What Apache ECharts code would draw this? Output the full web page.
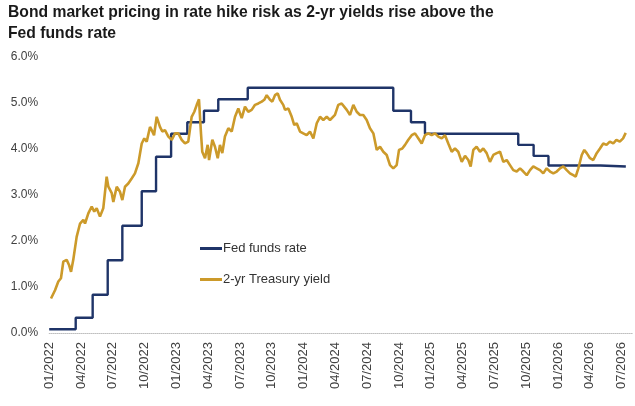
<!DOCTYPE html>
<html>
<head>
<meta charset="utf-8">
<script src="https://cdn.jsdelivr.net/npm/echarts@6/dist/echarts.min.js"></script>
<style>
  html, body { margin: 0; padding: 0; background: #fff; }
  #chart { width: 635px; height: 406px; }
</style>
</head>
<body>
<div id="chart"></div>
<script>
// x values are months since 01/2022 (0 = Jan 2022, 12 = Jan 2023 ...)
const xTicks = ['01/2022', '04/2022', '07/2022', '10/2022', '01/2023', '04/2023', '07/2023',
  '10/2023', '01/2024', '04/2024', '07/2024', '10/2024', '01/2025', '04/2025', '07/2025',
  '10/2025', '01/2026', '04/2026', '07/2026'];

// Fed funds rate: month where each level starts, and the level (%)
const fedMonth = [0, 2.5, 4.1, 5.52, 6.9, 8.73, 10.08, 11.5, 13.03, 14.6, 15.95, 18.73,
  32.46, 34.13, 35.45, 44.25, 45.7, 47.1, 52.0, 54.4];
const fedRate = [0.08, 0.33, 0.83, 1.58, 2.33, 3.08, 3.83, 4.33, 4.58, 4.83, 5.08, 5.33,
  4.83, 4.58, 4.33, 4.09, 3.85, 3.64, 3.62, 3.62];

// 2-yr Treasury yield (%)
const yieldMonth = [0.17, 0.55, 0.86, 1.11, 1.33, 1.65, 1.87, 2.06, 2.27, 2.59, 2.91, 3.22, 3.38,
  3.69, 4.01, 4.25, 4.48, 4.79, 5.10, 5.42, 5.58, 5.90, 6.05, 6.37, 6.68, 6.90, 7.15, 7.46, 7.78,
  8.09, 8.41, 8.73, 8.97, 9.20, 9.51, 9.67, 9.89, 10.14, 10.45, 10.67, 10.92, 11.24, 11.56, 11.87,
  12.18, 12.50, 12.81, 13.12, 13.44, 13.69, 13.92, 14.13, 14.32, 14.44, 14.70, 14.95, 15.08,
  15.39, 15.64, 15.90, 16.11, 16.33, 16.58, 16.90, 17.22, 17.53, 17.84, 18.16, 18.47, 18.78,
  19.10, 19.42, 19.73, 20.05, 20.29, 20.52, 20.83, 21.05, 21.30, 21.56, 21.77, 22.08, 22.25,
  22.56, 22.88, 23.12, 23.35, 23.66, 23.97, 24.29, 24.60, 24.92, 25.24, 25.55, 25.86, 26.18,
  26.49, 26.65, 26.96, 27.27, 27.59, 27.75, 28.07, 28.38, 28.69, 29.01, 29.32, 29.63, 29.95,
  30.26, 30.58, 30.90, 31.21, 31.52, 31.84, 32.15, 32.46, 32.78, 33.00, 33.31, 33.57, 33.88,
  34.20, 34.51, 34.83, 35.14, 35.45, 35.77, 36.08, 36.40, 36.71, 37.03, 37.34, 37.65, 37.97,
  38.28, 38.59, 38.92, 39.23, 39.54, 39.76, 40.01, 40.32, 40.64, 40.95, 41.27, 41.58, 41.90,
  42.22, 42.53, 42.84, 43.16, 43.47, 43.78, 44.10, 44.42, 44.73, 45.05, 45.36, 45.67, 45.99,
  46.30, 46.61, 46.93, 47.25, 47.56, 47.88, 48.19, 48.50, 48.82, 49.13, 49.44, 49.67, 49.92,
  50.24, 50.48, 50.71, 51.02, 51.33, 51.65, 51.96, 52.27, 52.58, 52.89, 53.21, 53.51, 53.83,
  54.14, 54.39];
const yieldPct = [0.75, 0.93, 1.12, 1.19, 1.55, 1.59, 1.48, 1.33, 1.59, 2.09, 2.38, 2.46, 2.38,
  2.60, 2.75, 2.64, 2.71, 2.53, 2.71, 3.40, 3.18, 3.04, 2.85, 3.18, 3.07, 2.89, 3.18, 3.25, 3.36,
  3.47, 3.69, 4.12, 4.23, 4.16, 4.48, 4.41, 4.30, 4.70, 4.48, 4.38, 4.41, 4.27, 4.20, 4.34,
  4.34, 4.20, 4.12, 4.16, 4.70, 4.81, 4.96, 5.08, 4.34, 3.94, 3.80, 4.09, 3.76,
  4.20, 4.05, 3.80, 4.09, 3.91, 4.27, 4.45, 4.38, 4.70, 4.88, 4.67, 4.92, 4.81,
  4.85, 4.96, 4.99, 5.03, 5.07, 5.17, 5.07, 5.03, 5.17, 5.21, 5.07, 4.96, 4.85,
  4.88, 4.70, 4.52, 4.56, 4.38, 4.34, 4.30, 4.38, 4.23, 4.56, 4.70, 4.63, 4.70,
  4.63, 4.59, 4.74, 4.96, 4.99, 5.03, 4.85, 4.74, 4.96, 4.81, 4.74, 4.74, 4.63,
  4.45, 4.34, 3.98, 4.05, 3.94, 3.87, 3.65, 3.58, 3.65, 3.98, 4.01, 4.09, 4.20,
  4.30, 4.34, 4.23, 4.12, 4.30, 4.34, 4.30, 4.34, 4.27, 4.23, 4.30, 4.12, 3.94,
  4.01, 3.94, 3.72, 3.85, 3.76, 3.62, 3.98, 4.05, 3.94, 4.01, 3.91, 3.72, 3.87,
  3.91, 3.94, 3.72, 3.76, 3.65, 3.54, 3.51, 3.58, 3.51, 3.43, 3.54, 3.62, 3.58,
  3.54, 3.47, 3.58, 3.51, 3.47, 3.51, 3.58, 3.62, 3.54, 3.47, 3.43, 3.40, 3.58,
  3.87, 3.98, 3.91, 3.80, 3.76, 3.91, 4.01, 4.12, 4.09, 4.16, 4.12, 4.20, 4.16,
  4.23, 4.35];

const yTicks = [0, 1, 2, 3, 4, 5, 6];

const chart = echarts.init(document.getElementById('chart'), null, { renderer: 'canvas' });

const fedData = fedMonth.map((m, i) => [m, fedRate[i]]);
const yieldData = yieldMonth.map((m, i) => [m, yieldPct[i]]);

chart.setOption({
  animation: false,
  backgroundColor: '#ffffff',
  textStyle: { fontFamily: 'Liberation Sans, Arial, sans-serif' },
  title: {
    text: 'Bond market pricing in rate hike risk as 2-yr yields rise above the\nFed funds rate',
    left: 8,
    top: 2,
    padding: 0,
    textStyle: {
      fontFamily: 'Liberation Sans Narrow, Liberation Sans, sans-serif',
      fontSize: 15.7,
      fontWeight: 'bold',
      lineHeight: 21,
      color: '#1a1a1a'
    }
  },
  grid: {
    left: 49.2,
    right: 2.8,
    top: 57,
    bottom: 73,
    outerBoundsMode: 'none'
  },
  legend: [
    {
      data: ['Fed funds rate'],
      left: 200,
      top: 242,
      padding: 0,
      icon: 'rect',
      itemWidth: 22,
      itemHeight: 3,
      itemGap: 0,
      textStyle: { fontSize: 13, color: '#333333', padding: [0, 0, 0, -4] }
    },
    {
      data: ['2-yr Treasury yield'],
      left: 200,
      top: 273,
      padding: 0,
      icon: 'rect',
      itemWidth: 22,
      itemHeight: 3,
      itemGap: 0,
      textStyle: { fontSize: 13, color: '#333333', padding: [0, 0, 0, -4] }
    }
  ],
  xAxis: {
    type: 'value',
    min: 0,
    max: 55,
    interval: 3,
    axisLine: { show: true, lineStyle: { color: '#bfbfbf', type: 'dotted', width: 1 } },
    axisTick: { show: false },
    splitLine: { show: false },
    axisLabel: {
      rotate: 90,
      margin: 9,
      fontSize: 13,
      color: '#404040',
      showMaxLabel: false,
      formatter: v => (v % 3 === 0 ? xTicks[v / 3] || '' : '')
    }
  },
  yAxis: {
    type: 'value',
    min: yTicks[0],
    max: yTicks[yTicks.length - 1],
    interval: 1,
    axisLine: { show: false },
    axisTick: { show: false },
    splitLine: { show: false },
    axisLabel: {
      margin: 11,
      fontSize: 12,
      color: '#404040',
      formatter: v => v.toFixed(1) + '%'
    }
  },
  series: [
    {
      name: 'Fed funds rate',
      type: 'line',
      step: 'end',
      data: fedData,
      symbol: 'none',
      itemStyle: { color: '#1f3468' },
      lineStyle: { color: '#1f3468', width: 2.4 },
      z: 2
    },
    {
      name: '2-yr Treasury yield',
      type: 'line',
      data: yieldData,
      symbol: 'none',
      itemStyle: { color: '#cc9a2a' },
      lineStyle: { color: '#cc9a2a', width: 2.6 },
      z: 3
    }
  ]
});
</script>
</body>
</html>
